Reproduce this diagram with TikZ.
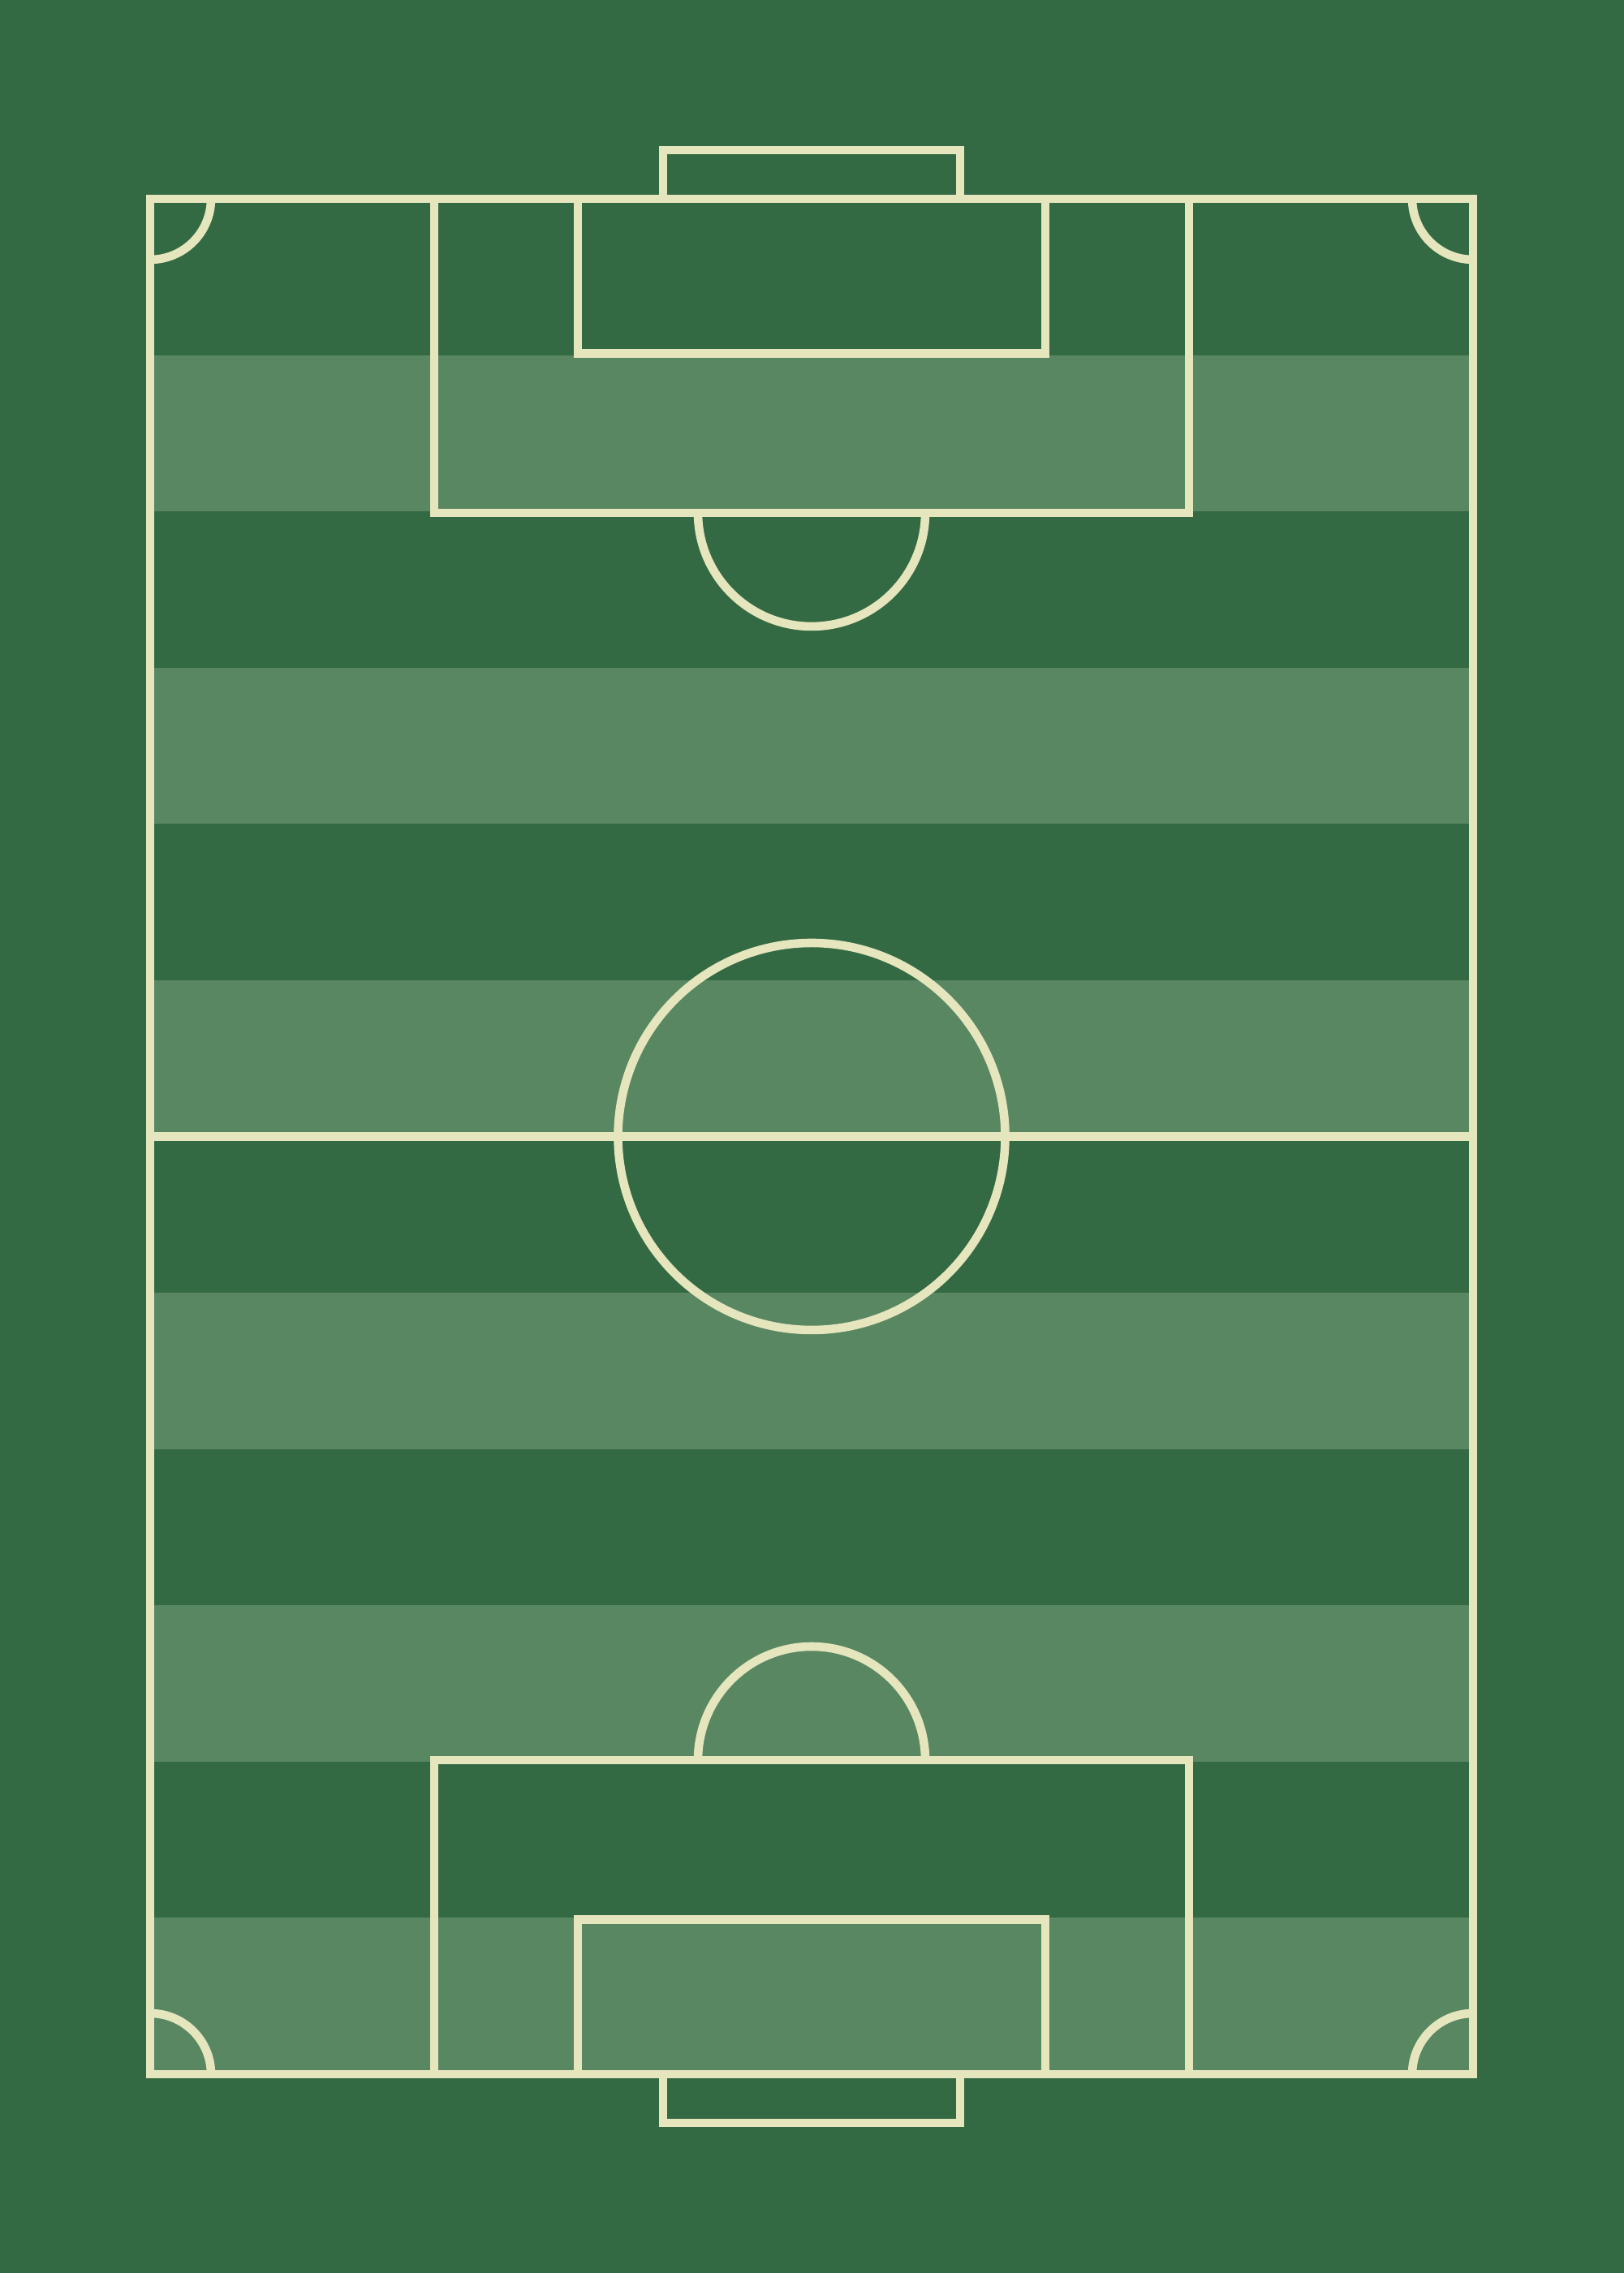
\documentclass[tikz,border=0pt]{standalone}
\usepackage{amsmath, amssymb, graphicx}
\definecolor{grassdark}{HTML}{346A43}
\definecolor{grasslight}{HTML}{598762}
\definecolor{chalk}{HTML}{E5E5BE}

\begin{document}
\begin{tikzpicture}
[grass/.style={fill=grassdark, draw=none},
stripe/.style={fill=grasslight, draw=none},
marking/.style={draw=chalk, line width=3pt, line join=miter},]
\useasboundingbox (0,0) rectangle (20,28.01);
\fill[grass] (-0.2,-0.2) rectangle (20.2,28.21);

% mown stripes
\foreach \i in {0,2,...,10}
  \fill[stripe] (1.85,{2.45+\i*1.92583}) rectangle (18.15,{2.45+(\i+1)*1.92583});

% outline and halfway line
\draw[marking] (1.85,2.45) rectangle (18.15,25.56);
\coordinate (hl) at (1.85,14.005);
\coordinate (hr) at (18.15,14.005);
\draw[marking] (hl) -- (hr);
\draw[marking] (10,14.005) circle (2.385);

% top end
\draw[marking] (8.17,25.56) rectangle (11.83,26.16);
\draw[marking] (5.35,21.69) rectangle (14.65,25.56);
\draw[marking] (7.12,23.655) rectangle (12.88,25.56);
\draw[marking] (8.6,21.69) arc (180:360:1.4);

% bottom end
\draw[marking] (8.17,1.85) rectangle (11.83,2.45);
\draw[marking] (5.35,2.45) rectangle (14.65,6.32);
\draw[marking] (7.12,2.45) rectangle (12.88,4.355);
\draw[marking] (11.4,6.32) arc (0:180:1.4);

% corners
\draw[marking] (2.6,25.56) arc (0:-90:0.75);
\draw[marking] (18.15,24.81) arc (270:180:0.75);
\draw[marking] (2.6,2.45) arc (0:90:0.75);
\draw[marking] (17.4,2.45) arc (180:90:0.75);

\end{tikzpicture}
\end{document}
